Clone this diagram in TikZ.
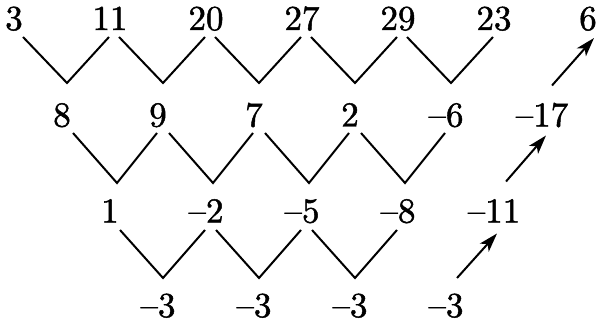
\documentclass[tikz,border=0pt]{standalone}
\usepackage{fontspec}
\newfontfamily\numfont{lmroman10-regular}[Extension=.otf,FakeBold=1.4,Ligatures=TeX]
\usetikzlibrary{arrows.meta,calc}
\begin{document}
\begin{tikzpicture}[x=1pt,y=-1pt,
  num/.style={anchor=base,inner sep=0pt,font=\numfont\fontsize{35}{40}\selectfont},
  vline/.style={line width=2pt,line join=miter,line cap=butt},
  arr/.style={line width=2pt,-{Stealth[length=19pt,width=12pt,inset=5pt]}}]
\useasboundingbox (0,0) rectangle (596,323);
% row 0
\foreach \v [count=\i from 0] in {3,11,20,27,29,23}
  \node[num] (a\i) at (14+96*\i,30) {\v};
\node[num] (a6) at (588,30) {6};
% row 1
\foreach \v [count=\i from 0] in {8,9,7,2,\textendash6,\textendash17}
  \node[num] (b\i) at (62+96*\i,126.5) {\v};
% row 2
\foreach \v [count=\i from 0] in {1,\textendash2,\textendash5,\textendash8,\textendash11}
  \node[num] (c\i) at (110+96*\i,222.5) {\v};
% row 3
\foreach \v [count=\i from 0] in {\textendash3,\textendash3,\textendash3,\textendash3}
  \node[num] (d\i) at (158+96*\i,317) {\v};
% V connectors
\foreach \i [evaluate=\i as \j using int(\i+1)] in {0,...,4}
  \draw[vline] ($(a\i.base)+(9,7)$) -- ($(a\i.base)+(53,53)$) -- ($(a\j.base)+(-1,7)$);
\foreach \i [evaluate=\i as \j using int(\i+1)] in {0,...,3}
  \draw[vline] ($(b\i.base)+(11,6.5)$) -- ($(b\i.base)+(55,56.5)$) -- ($(b\j.base)+(-1,6.5)$);
\foreach \i [evaluate=\i as \j using int(\i+1)] in {0,...,2}
  \draw[vline] ($(c\i.base)+(10,7.5)$) -- ($(c\i.base)+(53,55.5)$) -- ($(c\j.base)+(-1,7.5)$);
% arrows
\draw[arr] ($(d3.base)+(11,-39)$) -- ($(c4.base)+(3,11)$);
\draw[arr] ($(c4.base)+(12,-41)$) -- ($(b5.base)+(4,9)$);
\draw[arr] ($(b5.base)+(10,-41)$) -- ($(a6.base)+(6,8)$);
\end{tikzpicture}
\end{document}
